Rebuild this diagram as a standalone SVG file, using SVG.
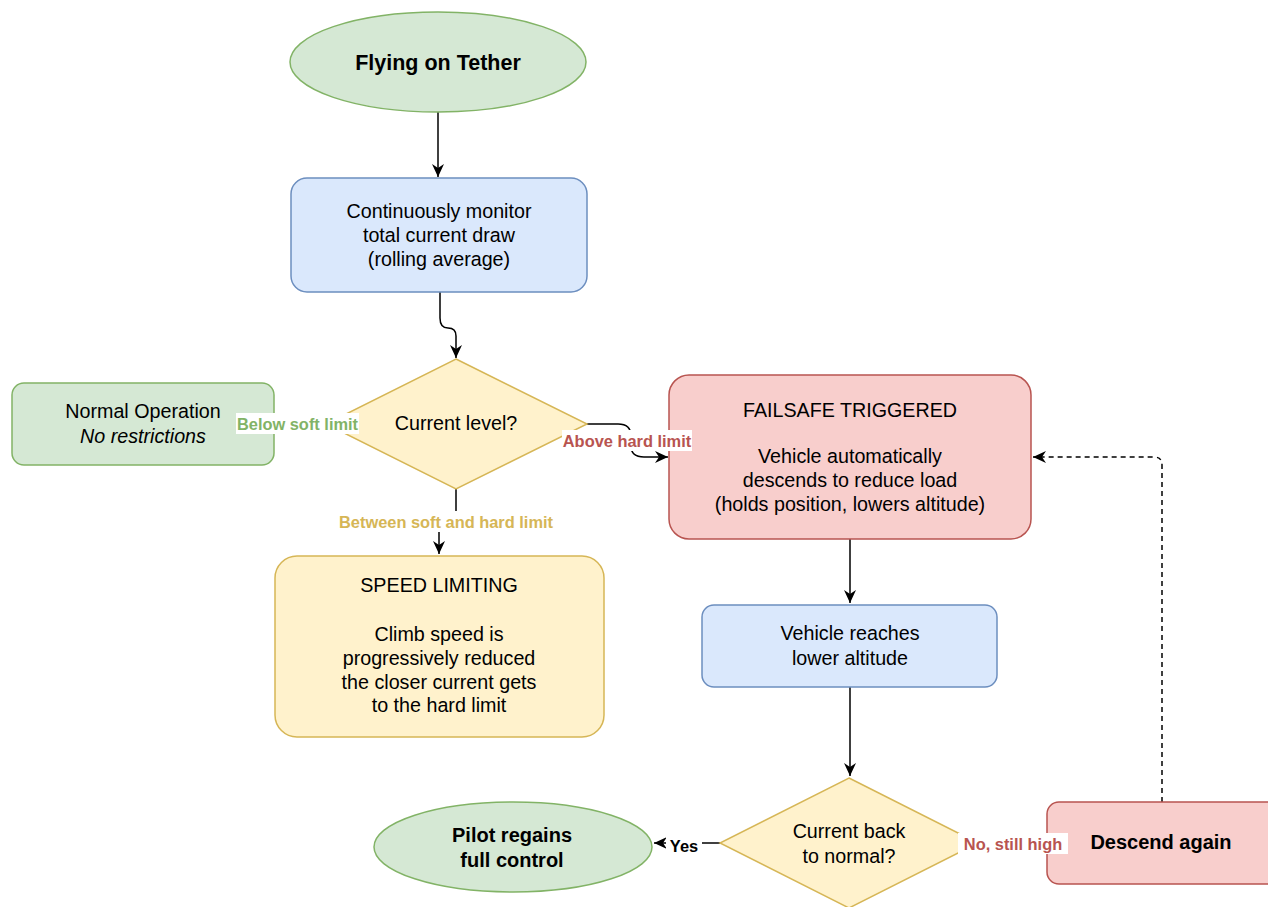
<svg xmlns="http://www.w3.org/2000/svg" width="1268" height="907" viewBox="0 0 1268 907">
<defs>
<marker id="arr2" viewBox="0 0 14 14" refX="13" refY="7" markerWidth="14" markerHeight="14" markerUnits="userSpaceOnUse" orient="auto">
<path d="M0,1 L13,7 L0,13 L4,7 Z" fill="#000"/>
</marker>
</defs>
<style>
text{font-family:"Liberation Sans",Arial,Helvetica,sans-serif;fill:#000;text-anchor:middle}
.t{font-size:19.7px}
.b{font-size:20px;font-weight:bold}
.lb{font-size:16.4px;font-weight:bold}
.lg{fill:#82b366}
.ly{fill:#d6b656}
.lr{fill:#b85450}
.green{fill:#d5e8d4;stroke:#82b366;stroke-width:1.5}
.blue{fill:#dae8fc;stroke:#6c8ebf;stroke-width:1.5}
.yellow{fill:#fff2cc;stroke:#d6b656;stroke-width:1.5}
.red{fill:#f8cecc;stroke:#b85450;stroke-width:1.5}
.edge{fill:none;stroke:#000;stroke-width:1.5}
.dash{stroke-dasharray:5 4}
.bg{fill:#fff}
</style>
<rect width="1268" height="907" fill="#fff"/>
<g id="connectors">
<path class="edge" d="M438 112 V177" marker-end="url(#arr2)"/>
<path class="edge" d="M440 292 V318 Q440 328 448 328 Q456 328 456 336 V358" marker-end="url(#arr2)"/>
<path class="edge" d="M326 424 H275" marker-end="url(#arr2)"/>
<path class="edge" d="M587 424 H618 Q631 424 631 436 V446 Q631 457 644 457 H668" marker-end="url(#arr2)"/>
<path class="edge" d="M456 489 V516 Q456 524 448 524 H447 Q439 524 439 532 V554" marker-end="url(#arr2)"/>
<path class="edge" d="M850 539 V603" marker-end="url(#arr2)"/>
<path class="edge" d="M850 687 V776" marker-end="url(#arr2)"/>
<path class="edge" d="M720 843 H654" marker-end="url(#arr2)"/>
<path class="edge" d="M978 843 H1046" marker-end="url(#arr2)"/>
<path class="edge dash" d="M1162 802 V465 Q1162 457 1154 457 H1033" marker-end="url(#arr2)"/>
</g>
<g id="flying">
<ellipse class="green" cx="438" cy="62" rx="148" ry="50"/>
<text class="b" x="438" y="70" style="font-size:21.5px">Flying on Tether</text>
</g>
<g id="monitor">
<rect class="blue" x="291" y="178" width="296" height="114" rx="16"/>
<text class="t" x="439" y="218">Continuously monitor</text>
<text class="t" x="439" y="242">total current draw</text>
<text class="t" x="439" y="266">(rolling average)</text>
</g>
<g id="level">
<polygon class="yellow" points="456,359 587,424 456,489 326,424"/>
<text class="t" x="456" y="430">Current level?</text>
</g>
<g id="normal">
<rect class="green" x="12" y="383" width="262" height="82" rx="12"/>
<text class="t" x="143" y="418">Normal Operation</text>
<text class="t" x="143" y="443" font-style="italic">No restrictions</text>
</g>
<g id="failsafe">
<rect class="red" x="669" y="375" width="362" height="164" rx="20"/>
<text class="t" x="850" y="417">FAILSAFE TRIGGERED</text>
<text class="t" x="850" y="463">Vehicle automatically</text>
<text class="t" x="850" y="487">descends to reduce load</text>
<text class="t" x="850" y="511">(holds position, lowers altitude)</text>
</g>
<g id="speed">
<rect class="yellow" x="275" y="556" width="329" height="181" rx="22"/>
<text class="t" x="439" y="592">SPEED LIMITING</text>
<text class="t" x="439" y="641">Climb speed is</text>
<text class="t" x="439" y="665">progressively reduced</text>
<text class="t" x="439" y="689">the closer current gets</text>
<text class="t" x="439" y="712">to the hard limit</text>
</g>
<g id="reaches">
<rect class="blue" x="702" y="605" width="295" height="82" rx="12"/>
<text class="t" x="850" y="640">Vehicle reaches</text>
<text class="t" x="850" y="665">lower altitude</text>
</g>
<g id="backnormal">
<polygon class="yellow" points="849,778 978,843 849,908 720,843"/>
<text class="t" x="849" y="838">Current back</text>
<text class="t" x="849" y="863">to normal?</text>
</g>
<g id="pilot">
<ellipse class="green" cx="513" cy="847" rx="139" ry="45"/>
<text class="b" x="512" y="842">Pilot regains</text>
<text class="b" x="512" y="867">full control</text>
</g>
<g id="descend">
<rect class="red" x="1047" y="802" width="232" height="82" rx="12"/>
<text class="b" x="1161" y="849">Descend again</text>
</g>
<g id="labels">
<rect class="bg" x="236" y="413" width="123" height="21"/>
<text class="lb lg" x="297.5" y="430">Below soft limit</text>
<rect class="bg" x="562" y="430" width="130" height="21"/>
<text class="lb lr" x="627" y="447">Above hard limit</text>
<rect class="bg" x="337" y="511" width="218" height="21"/>
<text class="lb ly" x="446" y="528">Between soft and hard limit</text>
<rect class="bg" x="666" y="835" width="36" height="21"/>
<text class="lb" x="684" y="852">Yes</text>
<rect class="bg" x="958" y="833" width="110" height="21"/>
<text class="lb lr" x="1013" y="850">No, still high</text>
</g>
</svg>
